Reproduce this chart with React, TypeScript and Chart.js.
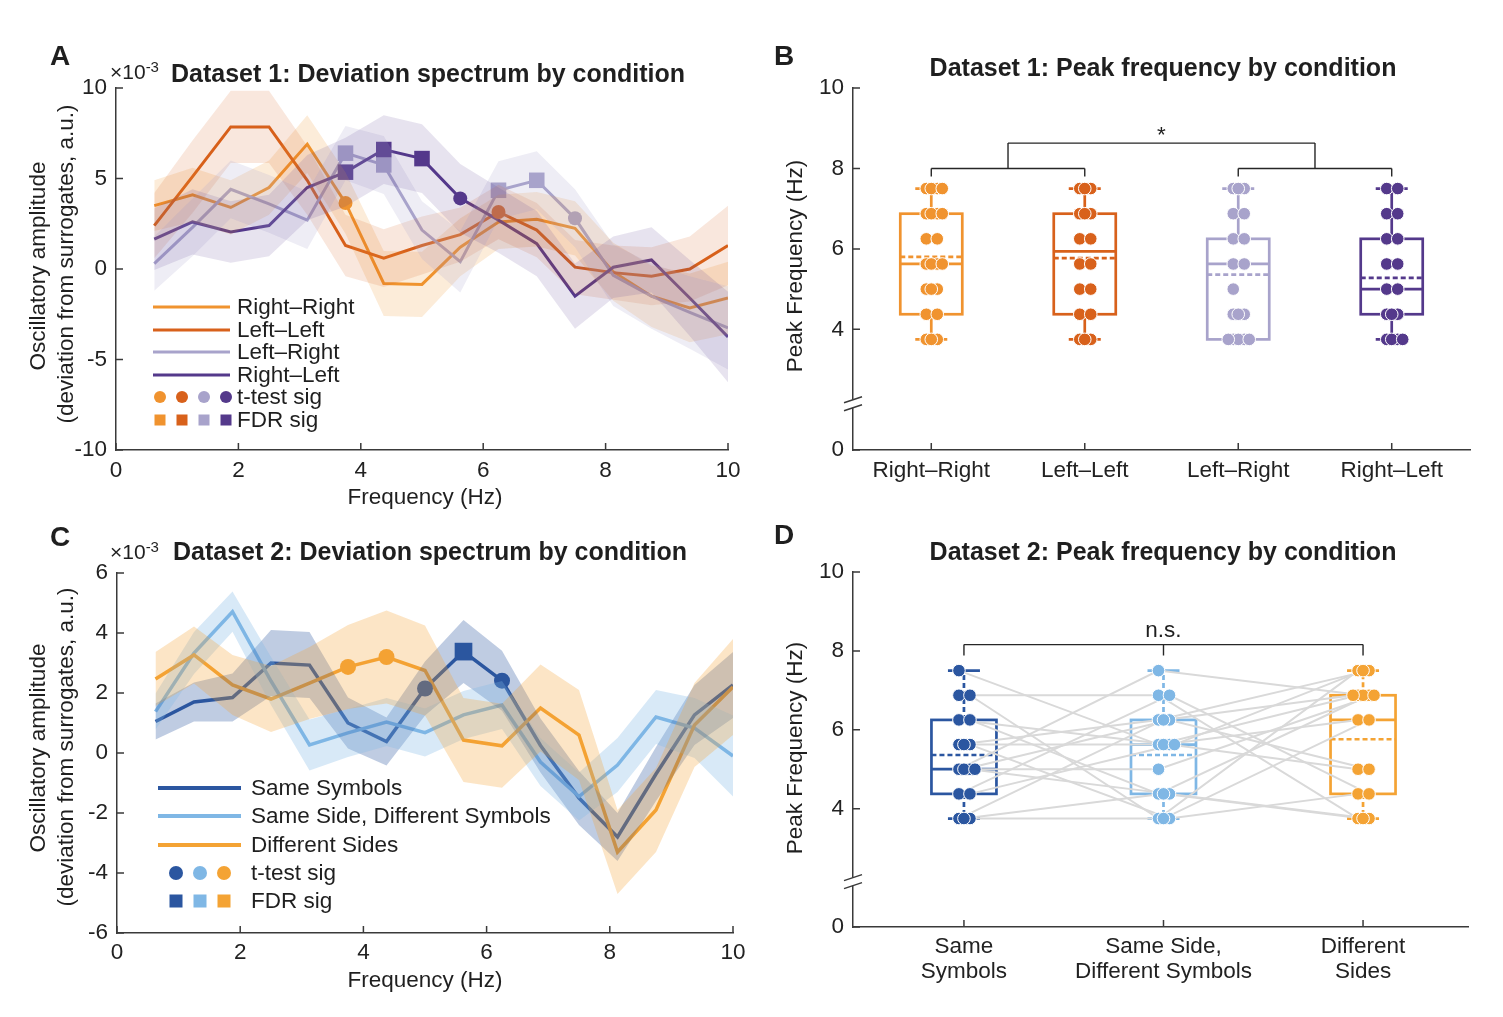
import React, { useEffect, useRef } from 'react';
import { Chart, registerables } from 'chart.js';

Chart.register(...registerables);

const FONT = '"Liberation Sans", Arial, Helvetica, sans-serif';
const TXT = '#1f1f1f';
const AXC = '#3a3a3a';
const W = 1503;
const H = 1017;
const YW = 80;
const XH = 70;
const FS = 22.5;

// ---------------- data ----------------
const FREQ = [0.625, 1.25, 1.875, 2.5, 3.125, 3.75, 4.375, 5.0, 5.625, 6.25, 6.875, 7.5, 8.125, 8.75, 9.375, 10];

// Dataset 1 deviation spectra (x10^-3)
const RR_MEAN = [3.5, 4.1, 3.4, 4.5, 6.9, 3.65, -0.8, -0.85, 1.2, 2.6, 2.75, 2.25, -0.15, -1.5, -2.15, -1.6];
const RR_SEM = [1.4, 1.5, 1.5, 1.5, 1.6, 1.7, 1.8, 1.8, 1.6, 1.5, 1.5, 1.5, 1.6, 1.7, 1.9, 2.0];
const LL_MEAN = [2.4, 5.1, 7.85, 7.85, 4.9, 1.3, 0.6, 1.3, 1.9, 3.15, 2.15, 0.1, -0.2, -0.4, 0.0, 1.3];
const LL_SEM = [1.8, 2.0, 2.0, 2.0, 1.9, 1.7, 1.6, 1.6, 1.5, 1.5, 1.5, 1.5, 1.5, 1.6, 1.8, 2.2];
const LR_MEAN = [0.3, 2.3, 4.4, 3.6, 2.7, 6.4, 5.75, 2.15, 0.4, 4.35, 4.9, 2.8, -0.35, -1.5, -2.4, -3.25];
const LR_SEM = [1.5, 1.6, 1.6, 1.6, 1.6, 1.5, 1.6, 1.6, 1.7, 1.6, 1.6, 1.6, 1.7, 1.8, 2.0, 2.3];
const RL_MEAN = [1.65, 2.6, 2.05, 2.4, 4.5, 5.35, 6.6, 6.1, 3.9, 2.7, 1.4, -1.5, 0.1, 0.5, -1.6, -3.75];
const RL_SEM = [1.7, 1.8, 1.7, 1.7, 1.8, 1.9, 1.9, 1.9, 1.9, 1.8, 1.8, 1.8, 1.7, 1.8, 2.1, 2.5];
const RR_T = [5];
const RR_FDR: number[] = [];
const LL_T = [9];
const LL_FDR: number[] = [];
const LR_T = [11];
const LR_FDR = [5, 6, 9, 10];
const RL_T = [8];
const RL_FDR = [5, 6, 7];

// Dataset 2 deviation spectra (x10^-3)
const SS_MEAN = [1.05, 1.7, 1.85, 3.0, 2.93, 1.0, 0.38, 2.15, 3.38, 2.41, 0.25, -1.5, -2.8, -0.7, 1.27, 2.27];
const SS_SEM = [0.6, 0.65, 0.8, 1.1, 1.1, 0.85, 0.8, 0.9, 1.05, 1.0, 0.9, 0.9, 0.8, 0.9, 1.0, 1.1];
const SD_MEAN = [1.38, 3.33, 4.71, 2.4, 0.27, 0.67, 1.03, 0.68, 1.27, 1.6, -0.3, -1.45, -0.4, 1.2, 0.83, -0.1];
const SD_SEM = [0.6, 0.7, 0.67, 0.8, 0.85, 0.8, 0.8, 0.8, 0.8, 0.8, 0.8, 0.8, 0.9, 0.9, 1.0, 1.35];
const DS_MEAN = [2.47, 3.27, 2.27, 1.8, 2.33, 2.87, 3.2, 2.75, 0.43, 0.24, 1.5, 0.6, -3.3, -1.9, 0.93, 2.2];
const DS_SEM = [0.9, 0.95, 1.0, 1.1, 1.2, 1.4, 1.55, 1.5, 1.4, 1.4, 1.45, 1.5, 1.4, 1.4, 1.4, 1.6];
const SS_T = [7, 9];
const SS_FDR = [8];
const SD_T: number[] = [];
const SD_FDR: number[] = [];
const DS_T = [5, 6];
const DS_FDR: number[] = [];

// Dataset 1 peak frequencies (Hz)
const D1_LABELS = ['Right–Right', 'Left–Left', 'Left–Right', 'Right–Left'];
const D1_RR = [7.5, 7.5, 7.5, 7.5, 6.875, 6.875, 6.875, 6.875, 6.25, 6.25, 5.625, 5.625, 5.625, 5.625, 5.0, 5.0, 5.0, 4.375, 4.375, 3.75, 3.75, 3.75];
const D1_LL = [7.5, 7.5, 7.5, 6.875, 6.875, 6.875, 6.25, 6.25, 5.625, 5.625, 5.0, 5.0, 4.375, 4.375, 3.75, 3.75, 3.75];
const D1_LR = [7.5, 7.5, 7.5, 6.875, 6.875, 6.25, 6.25, 5.625, 5.625, 5.0, 4.375, 4.375, 4.375, 3.75, 3.75, 3.75, 3.75, 3.75];
const D1_RL = [7.5, 7.5, 6.875, 6.875, 6.25, 6.25, 5.625, 5.625, 5.0, 5.0, 4.375, 4.375, 4.375, 3.75, 3.75, 3.75, 3.75];
const D1_Q1 = [4.375, 4.375, 3.75, 4.375];
const D1_MED = [5.625, 5.94, 5.625, 5.0];
const D1_Q3 = [6.875, 6.875, 6.25, 6.25];
const D1_AVG = [5.8, 5.77, 5.36, 5.28];
const D1_LO = [3.75, 3.75, 3.75, 3.75];
const D1_HI = [7.5, 7.5, 7.5, 7.5];

// Dataset 2 peak frequencies (Hz), subject-ordered
const D2_LABELS = [['Same', 'Symbols'], ['Same Side,', 'Different Symbols'], ['Different', 'Sides']];
const D2_SS = [7.5, 6.875, 6.875, 6.25, 6.25, 5.625, 5.625, 5.625, 5.0, 5.0, 5.0, 5.0, 4.375, 4.375, 3.75, 3.75, 3.75];
const D2_SD = [5.625, 6.875, 3.75, 5.625, 4.375, 6.25, 3.75, 5.625, 7.5, 4.375, 6.25, 5.0, 6.875, 5.625, 6.25, 3.75, 4.375];
const D2_DS = [6.875, 3.75, 7.5, 5.0, 6.875, 7.5, 4.375, 6.25, 6.875, 3.75, 5.0, 6.875, 4.375, 7.5, 6.875, 6.25, 3.75];
const D2_Q1 = [4.375, 4.375, 4.375];
const D2_MED = [5.0, 5.625, 6.25];
const D2_Q3 = [6.25, 6.25, 6.875];
const D2_AVG = [5.36, 5.36, 5.76];
const D2_LO = [3.75, 3.75, 3.75];
const D2_HI = [7.5, 7.5, 7.5];

// ---------------- styles ----------------
const C_RR = '#F0932F';
const C_LL = '#D8611B';
const C_LR = '#A8A3CB';
const C_RL = '#54398B';
const C_SS = '#2B56A0';
const C_SD = '#7FB7E5';
const C_DS = '#F4A334';
const JIT = [-5, 6, 0, 11, -10, 3, -2, 9, -7];

function rgba(hex: string, a: number) {
  const n = parseInt(hex.slice(1), 16);
  return `rgba(${n >> 16},${(n >> 8) & 255},${n & 255},${a})`;
}

function font(size = FS, weight = 'normal') {
  return `${weight} ${size}px ${FONT}`;
}

function jitter(vals: number[], pxPerUnit: number) {
  const seen: Record<string, number> = {};
  return vals.map((v) => {
    const k = String(v);
    const g = seen[k] || 0;
    seen[k] = g + 1;
    return JIT[g % JIT.length] / pxPerUnit;
  });
}

function axis(min: number, max: number, horizontal: boolean, extra: any) {
  return {
    type: 'linear',
    min,
    max,
    grid: { display: false, drawTicks: false },
    border: { display: true, color: AXC, width: 1.5 },
    ticks: {
      font: { family: FONT, size: FS, lineHeight: 1.12 },
      color: '#222',
      maxRotation: 0,
      autoSkip: false,
      ...(extra.ticks || {}),
    },
    afterFit: (s: any) => {
      if (horizontal) s.height = XH;
      else s.width = YW;
    },
    ...(extra.rest || {}),
  };
}

function layoutFor(a: { l: number; r: number; t: number; b: number }) {
  return { padding: { left: a.l - YW, right: W - a.r, top: a.t, bottom: H - a.b - XH } };
}

const inTicks = (len: number) => ({
  id: 'inTicks',
  afterDraw(chart: any) {
    const { ctx, chartArea } = chart;
    const xs = chart.scales.x;
    const ys = chart.scales.y;
    ctx.save();
    ctx.strokeStyle = AXC;
    ctx.lineWidth = 1.5;
    ctx.beginPath();
    xs.ticks.forEach((t: any) => {
      const p = xs.getPixelForValue(t.value);
      ctx.moveTo(p, chartArea.bottom);
      ctx.lineTo(p, chartArea.bottom - len);
    });
    ys.ticks.forEach((t: any) => {
      const p = ys.getPixelForValue(t.value);
      ctx.moveTo(chartArea.left, p);
      ctx.lineTo(chartArea.left + len, p);
    });
    ctx.stroke();
    ctx.restore();
  },
});

const specLegend = (cfg: any) => ({
  id: 'specLegend',
  afterDraw(chart: any) {
    const { ctx } = chart;
    ctx.save();
    ctx.font = font(FS);
    ctx.fillStyle = TXT;
    ctx.textBaseline = 'middle';
    ctx.textAlign = 'left';
    cfg.lines.forEach((l: any) => {
      ctx.strokeStyle = l.color;
      ctx.lineWidth = cfg.lineW;
      ctx.beginPath();
      ctx.moveTo(cfg.x1, l.y);
      ctx.lineTo(cfg.x2, l.y);
      ctx.stroke();
      ctx.fillText(l.label, cfg.tx, l.y + 1);
    });
    cfg.colors.forEach((c: string, i: number) => {
      ctx.fillStyle = c;
      ctx.beginPath();
      ctx.arc(cfg.mx[i], cfg.tY, cfg.cR, 0, Math.PI * 2);
      ctx.fill();
      ctx.fillRect(cfg.mx[i] - cfg.sH, cfg.fY - cfg.sH, cfg.sH * 2, cfg.sH * 2);
    });
    ctx.fillStyle = TXT;
    ctx.fillText('t-test sig', cfg.tx, cfg.tY + 1);
    ctx.fillText('FDR sig', cfg.tx, cfg.fY + 1);
    ctx.restore();
  },
});

const boxPlugin = (boxes: any[], hw: number, capHw: number, whiskerDash: boolean) => ({
  id: 'boxes',
  beforeDatasetsDraw(chart: any) {
    const { ctx } = chart;
    const xs = chart.scales.x;
    const ys = chart.scales.y;
    const Y = (v: number) => ys.getPixelForValue(v);
    const seg = (x1: number, y1: number, x2: number, y2: number) => {
      ctx.beginPath();
      ctx.moveTo(x1, y1);
      ctx.lineTo(x2, y2);
      ctx.stroke();
    };
    boxes.forEach((b) => {
      const cx = xs.getPixelForValue(b.pos);
      ctx.save();
      ctx.strokeStyle = b.color;
      ctx.lineWidth = 2.7;
      if (whiskerDash) ctx.setLineDash([5, 3]);
      if (b.hi > b.q3) seg(cx, Y(b.q3), cx, Y(b.hi));
      if (b.lo < b.q1) seg(cx, Y(b.q1), cx, Y(b.lo));
      ctx.setLineDash([]);
      seg(cx - capHw, Y(b.hi), cx + capHw, Y(b.hi));
      seg(cx - capHw, Y(b.lo), cx + capHw, Y(b.lo));
      ctx.strokeRect(cx - hw, Y(b.q3), hw * 2, Y(b.q1) - Y(b.q3));
      seg(cx - hw, Y(b.med), cx + hw, Y(b.med));
      ctx.setLineDash([5, 3]);
      seg(cx - hw, Y(b.mean), cx + hw, Y(b.mean));
      ctx.restore();
    });
  },
});

const bracketPlugin = (segs: number[][], label: string, lx: number, ly: number, lift: number) => ({
  id: 'brackets',
  afterDatasetsDraw(chart: any) {
    const { ctx } = chart;
    const xs = chart.scales.x;
    const ys = chart.scales.y;
    ctx.save();
    ctx.strokeStyle = '#262626';
    ctx.lineWidth = 1.4;
    ctx.beginPath();
    segs.forEach((s) => {
      ctx.moveTo(xs.getPixelForValue(s[0]), ys.getPixelForValue(s[1]));
      ctx.lineTo(xs.getPixelForValue(s[2]), ys.getPixelForValue(s[3]));
    });
    ctx.stroke();
    ctx.font = font(FS);
    ctx.fillStyle = TXT;
    ctx.textAlign = 'center';
    ctx.textBaseline = 'alphabetic';
    ctx.fillText(label, xs.getPixelForValue(lx), ys.getPixelForValue(ly) - lift);
    ctx.restore();
  },
});

const breakPlugin = (val: number) => ({
  id: 'axisBreak',
  afterDraw(chart: any) {
    const { ctx, chartArea } = chart;
    const y = chart.scales.y.getPixelForValue(val);
    const x = chartArea.left;
    ctx.save();
    ctx.fillStyle = '#fff';
    ctx.fillRect(x - 3, y - 4, 6, 8);
    ctx.strokeStyle = AXC;
    ctx.lineWidth = 1.5;
    ctx.beginPath();
    ctx.moveTo(x - 9, y - 1);
    ctx.lineTo(x + 9, y - 7);
    ctx.moveTo(x - 9, y + 7);
    ctx.lineTo(x + 9, y + 1);
    ctx.stroke();
    ctx.restore();
  },
});

// ---------------- chart builders ----------------
function spectrumConfig(p: any) {
  const datasets: any[] = [];
  const n = p.series.length;
  p.series.forEach((s: any, k: number) => {
    datasets.push({
      data: FREQ.map((f, i) => ({ x: f, y: s.mean[i] })),
      borderColor: s.color,
      borderWidth: p.lineW,
      pointRadius: 0,
      fill: false,
      tension: 0,
      order: 100 + n - k,
    });
  });
  p.series.forEach((s: any, k: number) => {
    datasets.push({
      data: s.t.map((i: number) => ({ x: FREQ[i], y: s.mean[i] })),
      showLine: false,
      pointStyle: 'circle',
      pointRadius: p.cR,
      backgroundColor: s.color,
      borderWidth: 0,
      order: 60 + n - k,
    });
    datasets.push({
      data: s.fdr.map((i: number) => ({ x: FREQ[i], y: s.mean[i] })),
      showLine: false,
      pointStyle: 'rect',
      pointRadius: p.sR,
      backgroundColor: s.color,
      borderWidth: 0,
      order: 60 + n - k,
    });
  });
  p.series.forEach((s: any, k: number) => {
    datasets.push({
      data: FREQ.map((f, i) => ({ x: f, y: s.mean[i] - s.sem[i] })),
      borderWidth: 0,
      borderColor: 'rgba(0,0,0,0)',
      pointRadius: 0,
      fill: false,
      order: 20 + n - k,
    });
    datasets.push({
      data: FREQ.map((f, i) => ({ x: f, y: s.mean[i] + s.sem[i] })),
      borderWidth: 0,
      borderColor: 'rgba(0,0,0,0)',
      pointRadius: 0,
      fill: '-1',
      backgroundColor: rgba(s.color, s.alpha),
      order: 20 + n - k,
    });
  });
  return {
    type: 'line',
    data: { datasets },
    options: {
      animation: false,
      responsive: false,
      devicePixelRatio: 1,
      events: [],
      layout: layoutFor(p.area),
      plugins: { legend: { display: false }, tooltip: { enabled: false }, title: { display: false } },
      scales: {
        x: axis(0, 10, true, { ticks: { stepSize: 2, padding: p.xPad, callback: (v: number) => String(v) } }),
        y: axis(p.yMin, p.yMax, false, { ticks: { stepSize: p.yStep, padding: 9, callback: (v: number) => String(v) } }),
      },
    },
    plugins: [inTicks(7), specLegend(p.legend)],
  };
}

function makeA() {
  return spectrumConfig({
    area: { l: 116, r: 728, t: 88, b: 450 },
    yMin: -10,
    yMax: 10,
    yStep: 5,
    lineW: 3,
    cR: 7,
    sR: 11,
    xPad: 8,
    series: [
      { mean: RR_MEAN, sem: RR_SEM, t: RR_T, fdr: RR_FDR, color: C_RR, alpha: 0.18 },
      { mean: LL_MEAN, sem: LL_SEM, t: LL_T, fdr: LL_FDR, color: C_LL, alpha: 0.15 },
      { mean: LR_MEAN, sem: LR_SEM, t: LR_T, fdr: LR_FDR, color: C_LR, alpha: 0.2 },
      { mean: RL_MEAN, sem: RL_SEM, t: RL_T, fdr: RL_FDR, color: C_RL, alpha: 0.14 },
    ],
    legend: {
      lines: [
        { y: 307, color: C_RR, label: D1_LABELS[0] },
        { y: 330, color: C_LL, label: D1_LABELS[1] },
        { y: 352, color: C_LR, label: D1_LABELS[2] },
        { y: 375, color: C_RL, label: D1_LABELS[3] },
      ],
      x1: 153,
      x2: 230,
      tx: 237,
      lineW: 3,
      colors: [C_RR, C_LL, C_LR, C_RL],
      mx: [160, 182, 204, 226],
      tY: 397,
      fY: 420,
      cR: 6,
      sH: 5.5,
    },
  });
}

function makeC() {
  return spectrumConfig({
    area: { l: 117, r: 733, t: 573, b: 933 },
    yMin: -6,
    yMax: 6,
    yStep: 2,
    lineW: 3.5,
    cR: 8,
    sR: 12.5,
    xPad: 7,
    series: [
      { mean: SS_MEAN, sem: SS_SEM, t: SS_T, fdr: SS_FDR, color: C_SS, alpha: 0.3 },
      { mean: SD_MEAN, sem: SD_SEM, t: SD_T, fdr: SD_FDR, color: C_SD, alpha: 0.3 },
      { mean: DS_MEAN, sem: DS_SEM, t: DS_T, fdr: DS_FDR, color: C_DS, alpha: 0.28 },
    ],
    legend: {
      lines: [
        { y: 788, color: C_SS, label: 'Same Symbols' },
        { y: 816, color: C_SD, label: 'Same Side, Different Symbols' },
        { y: 845, color: C_DS, label: 'Different Sides' },
      ],
      x1: 158,
      x2: 241,
      tx: 251,
      lineW: 4,
      colors: [C_SS, C_SD, C_DS],
      mx: [176, 200, 224],
      tY: 873,
      fY: 901,
      cR: 7,
      sH: 6.5,
    },
  });
}

function peakConfig(p: any) {
  const datasets: any[] = [];
  const jits = p.groups.map((g: number[]) => jitter(g, p.pxPerUnit));
  if (p.paired) {
    p.groups[0].forEach((_: number, s: number) => {
      datasets.push({
        data: p.groups.map((g: number[], c: number) => ({ x: c + 1 + jits[c][s], y: g[s] })),
        borderColor: '#d9d9d9',
        borderWidth: 2,
        pointRadius: 0,
        fill: false,
        tension: 0,
        order: 50,
      });
    });
  }
  p.groups.forEach((g: number[], c: number) => {
    datasets.push({
      data: g.map((v, i) => ({ x: c + 1 + jits[c][i], y: v })),
      showLine: false,
      pointStyle: 'circle',
      pointRadius: 6.3,
      backgroundColor: p.colors[c],
      borderColor: '#ffffff',
      borderWidth: 1,
      order: 10,
    });
  });
  const boxes = p.colors.map((col: string, c: number) => ({
    pos: c + 1,
    q1: p.q1[c],
    med: p.med[c],
    q3: p.q3[c],
    mean: p.avg[c],
    lo: p.lo[c],
    hi: p.hi[c],
    color: col,
  }));
  return {
    type: 'line',
    data: { datasets },
    options: {
      animation: false,
      responsive: false,
      devicePixelRatio: 1,
      events: [],
      layout: layoutFor(p.area),
      plugins: { legend: { display: false }, tooltip: { enabled: false }, title: { display: false } },
      scales: {
        x: axis(p.xMin, p.xMax, true, {
          ticks: { padding: p.xPad, callback: (v: number) => p.labels[v - 1] },
          rest: { afterBuildTicks: (s: any) => { s.ticks = p.labels.map((_: any, i: number) => ({ value: i + 1 })); } },
        }),
        y: axis(1, 10, false, {
          ticks: { padding: 9, callback: (v: number) => (v === 1 ? '0' : String(v)) },
          rest: { afterBuildTicks: (s: any) => { s.ticks = [1, 4, 6, 8, 10].map((v) => ({ value: v })); } },
        }),
      },
    },
    plugins: [
      boxPlugin(boxes, p.hw, 16, p.whiskerDash),
      inTicks(7),
      breakPlugin(2.15),
      bracketPlugin(p.segs, p.mark, p.markX, p.markY, p.markLift),
    ],
  };
}

function makeB() {
  return peakConfig({
    area: { l: 853, r: 1470, t: 88, b: 450 },
    xMin: 0.49,
    xMax: 4.51,
    pxPerUnit: 153.7,
    xPad: 8,
    labels: D1_LABELS,
    groups: [D1_RR, D1_LL, D1_LR, D1_RL],
    colors: [C_RR, C_LL, C_LR, C_RL],
    q1: D1_Q1,
    med: D1_MED,
    q3: D1_Q3,
    avg: D1_AVG,
    lo: D1_LO,
    hi: D1_HI,
    hw: 31,
    whiskerDash: false,
    paired: false,
    segs: [
      [1, 7.8, 1, 8.0], [1, 8.0, 2, 8.0], [2, 8.0, 2, 7.8],
      [3, 7.8, 3, 8.0], [3, 8.0, 4, 8.0], [4, 8.0, 4, 7.8],
      [1.5, 8.0, 1.5, 8.63], [1.5, 8.63, 3.5, 8.63], [3.5, 8.63, 3.5, 8.0],
    ],
    mark: '*',
    markX: 2.5,
    markY: 8.63,
    markLift: 1,
  });
}

function makeD() {
  return peakConfig({
    area: { l: 853, r: 1468, t: 572, b: 927 },
    xMin: 0.444,
    xMax: 3.526,
    pxPerUnit: 199.5,
    xPad: 7,
    labels: D2_LABELS,
    groups: [D2_SS, D2_SD, D2_DS],
    colors: [C_SS, C_SD, C_DS],
    q1: D2_Q1,
    med: D2_MED,
    q3: D2_Q3,
    avg: D2_AVG,
    lo: D2_LO,
    hi: D2_HI,
    hw: 32.5,
    whiskerDash: true,
    paired: true,
    segs: [
      [1, 7.88, 1, 8.16], [1, 8.16, 3, 8.16], [3, 8.16, 3, 7.88], [2, 8.16, 2, 7.88],
    ],
    mark: 'n.s.',
    markX: 2,
    markY: 8.16,
    markLift: 8,
  });
}

// ---------------- components ----------------
function ChartCanvas({ make }: { make: () => any }) {
  const ref = useRef<HTMLCanvasElement | null>(null);
  useEffect(() => {
    const chart = new Chart(ref.current as HTMLCanvasElement, make() as any);
    return () => chart.destroy();
  }, [make]);
  return (
    <canvas
      ref={ref}
      width={W}
      height={H}
      style={{ position: 'absolute', left: 0, top: 0, width: W, height: H }}
    />
  );
}

function Label({ x, y, size = FS, bold = false, rot = 0, children }: any) {
  return (
    <div
      style={{
        position: 'absolute',
        left: x,
        top: y,
        transform: `translate(-50%, -50%)${rot ? ` rotate(${rot}deg)` : ''}`,
        fontFamily: FONT,
        fontSize: size,
        fontWeight: bold ? 700 : 400,
        color: TXT,
        whiteSpace: 'nowrap',
        lineHeight: 1,
      }}
    >
      {children}
    </div>
  );
}

function Exponent({ x, y }: { x: number; y: number }) {
  return (
    <div
      style={{
        position: 'absolute',
        left: x,
        top: y - FS / 2,
        fontFamily: FONT,
        fontSize: 21,
        color: TXT,
        whiteSpace: 'nowrap',
        lineHeight: 1,
      }}
    >
      ×10
      <span style={{ fontSize: 15, position: 'relative', top: -7 }}>-3</span>
    </div>
  );
}

export default function App() {
  return (
    <div style={{ position: 'absolute', left: 0, top: 0, width: W, height: H, background: '#ffffff', overflow: 'hidden' }}>
      <ChartCanvas make={makeA} />
      <ChartCanvas make={makeB} />
      <ChartCanvas make={makeC} />
      <ChartCanvas make={makeD} />

      <Label x={60} y={56} size={28} bold>A</Label>
      <Label x={784} y={56} size={28} bold>B</Label>
      <Label x={60} y={537} size={28} bold>C</Label>
      <Label x={784} y={535} size={28} bold>D</Label>

      <Label x={428} y={73} size={25} bold>Dataset 1: Deviation spectrum by condition</Label>
      <Label x={1163} y={67} size={25} bold>Dataset 1: Peak frequency by condition</Label>
      <Label x={430} y={551} size={25} bold>Dataset 2: Deviation spectrum by condition</Label>
      <Label x={1163} y={551} size={25} bold>Dataset 2: Peak frequency by condition</Label>

      <Exponent x={110} y={72} />
      <Exponent x={110} y={552} />

      <Label x={38} y={266} rot={-90}>Oscillatory amplitude</Label>
      <Label x={66} y={264} rot={-90}>(deviation from surrogates, a.u.)</Label>
      <Label x={425} y={497}>Frequency (Hz)</Label>
      <Label x={795} y={266} rot={-90}>Peak Frequency (Hz)</Label>

      <Label x={38} y={748} rot={-90}>Oscillatory amplitude</Label>
      <Label x={66} y={747} rot={-90}>(deviation from surrogates, a.u.)</Label>
      <Label x={425} y={980}>Frequency (Hz)</Label>
      <Label x={795} y={748} rot={-90}>Peak Frequency (Hz)</Label>
    </div>
  );
}
